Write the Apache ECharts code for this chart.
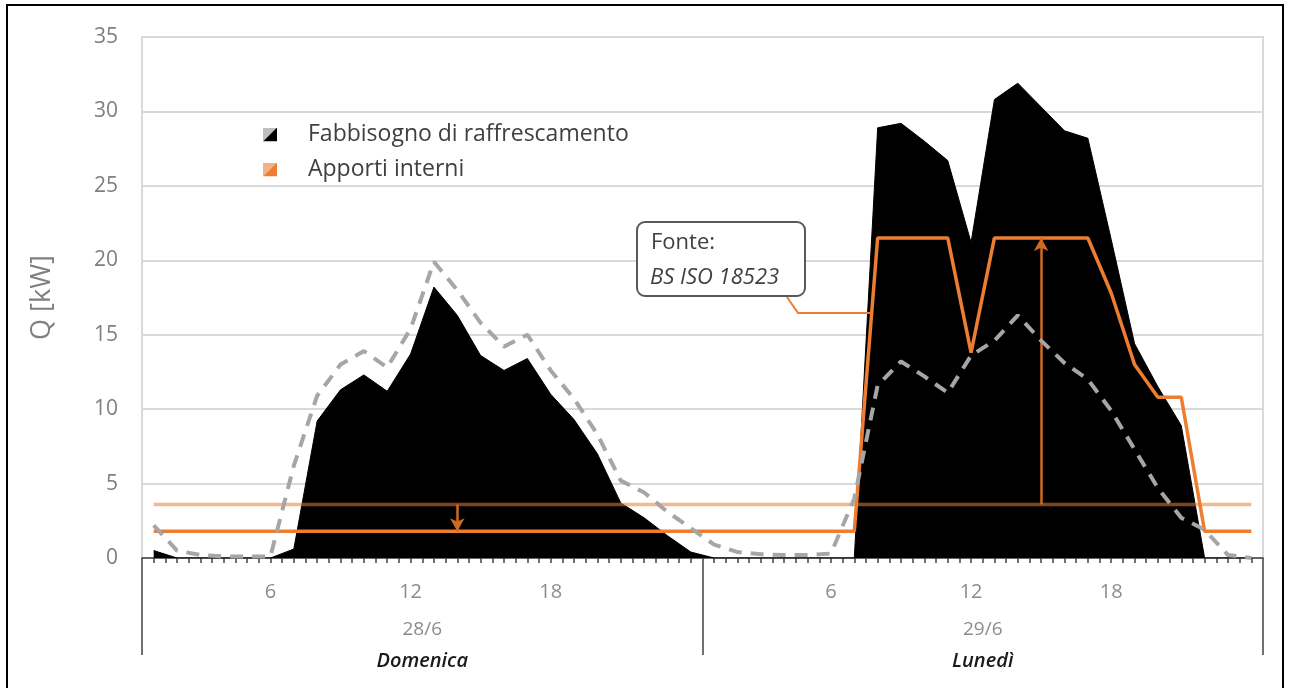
<!DOCTYPE html>
<html>
<head>
<meta charset="utf-8">
<script src="https://cdn.jsdelivr.net/npm/echarts@6/dist/echarts.min.js"></script>
<style>html,body{margin:0;padding:0;background:#fff}#c{width:1289px;height:688px}</style>
</head>
<body>
<div id="c"></div>
<script>
// ---- data ----
const hours = ['1','2','3','4','5','6','7','8','9','10','11','12','13','14','15','16','17','18','19','20','21','22','23','24',
               '1','2','3','4','5','6','7','8','9','10','11','12','13','14','15','16','17','18','19','20','21','22','23','24'];
const shownHours = ['6','12','18'];
const days = ['28/6','29/6'];
const dayNames = ['Domenica','Lunedì'];
const fabbisogno = [0.5,0,0,0,0,0,0.6,9.2,11.3,12.3,11.2,13.7,18.2,16.3,13.6,12.6,13.4,11.0,9.3,7.0,3.7,2.7,1.5,0.4,
                    0,0,0,0,0,0,0,28.9,29.2,28.0,26.7,21.2,30.8,31.9,30.3,28.7,28.2,21.4,14.4,11.5,8.9,0,0,0];
const fabbisognoAlt = [2.2,0.5,0.2,0.1,0.1,0.1,6.2,10.9,13.0,13.9,12.8,15.4,19.9,18.0,15.8,14.2,15.0,12.6,10.7,8.3,5.2,4.4,3.1,2.0,
                       0.9,0.4,0.25,0.2,0.2,0.3,4.0,11.6,13.2,12.2,11.1,13.6,14.6,16.3,14.6,13.1,12.0,9.9,7.3,4.7,2.7,1.9,0.2,0];
const apporti = [1.8,1.8,1.8,1.8,1.8,1.8,1.8,1.8,1.8,1.8,1.8,1.8,1.8,1.8,1.8,1.8,1.8,1.8,1.8,1.8,1.8,1.8,1.8,1.8,
                 1.8,1.8,1.8,1.8,1.8,1.8,1.8,21.5,21.5,21.5,21.5,13.8,21.5,21.5,21.5,21.5,21.5,17.8,13.0,10.8,10.8,1.8,1.8,1.8];
const apportiRif = [3.6,3.6,3.6,3.6,3.6,3.6,3.6,3.6,3.6,3.6,3.6,3.6,3.6,3.6,3.6,3.6,3.6,3.6,3.6,3.6,3.6,3.6,3.6,3.6,
                    3.6,3.6,3.6,3.6,3.6,3.6,3.6,3.6,3.6,3.6,3.6,3.6,3.6,3.6,3.6,3.6,3.6,3.6,3.6,3.6,3.6,3.6,3.6,3.6];
// arrows: [category index, from, to]
const arrows = [[13, 3.6, 1.8], [38, 3.6, 21.5]];
const legendNames = ['Fabbisogno di raffrescamento', 'Apporti interni'];
const noteLines = ['Fonte:', 'BS ISO 18523'];

function icon(c1, c2) {
  const svg = '<svg xmlns="http://www.w3.org/2000/svg" width="14" height="14">' +
    '<polygon points="0,0 14,0 0,14" fill="' + c1 + '"/>' +
    '<polygon points="14,0 14,14 0,14" fill="' + c2 + '"/></svg>';
  return 'image://data:image/svg+xml;charset=utf-8,' + encodeURIComponent(svg);
}

const FONT = '"Open Sans", sans-serif';
const chart = echarts.init(document.getElementById('c'), null, {renderer: 'canvas'});
chart.setOption({
  animation: false,
  textStyle: {fontFamily: FONT},
  grid: {left: 142, right: 26, top: 37, bottom: 130, show: true, borderColor: '#d9d9d9', borderWidth: 2},
  legend: {
    orient: 'vertical', left: 263, top: 123, padding: 0, itemWidth: 14, itemHeight: 14, itemGap: 12,
    textStyle: {fontFamily: FONT, fontSize: 23, color: '#404040', padding: [0, 0, 0, 26]},
    selectedMode: false,
    data: [
      {name: legendNames[0], icon: icon('#bfbfbf', '#000000')},
      {name: legendNames[1], icon: icon('#f4b183', '#ed7d31')}
    ]
  },
  xAxis: [
    {
      type: 'category', data: hours, boundaryGap: true, position: 'bottom',
      axisLine: {show: true, lineStyle: {color: '#404040', width: 1.5}},
      axisTick: {show: true, interval: 0, length: 5, lineStyle: {color: '#404040', width: 1.5}},
      axisLabel: {
        interval: function (i, v) { return (i % 24 === 5 || i % 24 === 11 || i % 24 === 17) && shownHours.indexOf(v) >= 0; },
        color: '#8c8c8c', fontSize: 20, margin: 24, fontFamily: FONT
      },
      splitLine: {show: false}
    },
    {
      type: 'category', data: hours, boundaryGap: true, position: 'bottom',
      axisLine: {show: false},
      axisTick: {show: true, interval: 0, alignWithLabel: true, length: 5, lineStyle: {color: '#404040', width: 1.5}},
      axisLabel: {show: false}, splitLine: {show: false}
    },
    {
      type: 'category', data: days, boundaryGap: true, position: 'bottom',
      axisLine: {show: false},
      axisTick: {show: true, interval: 0, length: 97, lineStyle: {color: '#404040', width: 1.5}},
      axisLabel: {
        interval: 0, margin: 57,
        formatter: function (v, i) { return '{d|' + v + '}\n{w|' + dayNames[i] + '}'; },
        rich: {
          d: {fontSize: 19, color: '#8c8c8c', lineHeight: 30, fontFamily: FONT},
          w: {fontSize: 20, color: '#1a1a1a', fontStyle: 'italic', fontWeight: 600, lineHeight: 32, fontFamily: FONT}
        }
      },
      splitLine: {show: false}
    }
  ],
  yAxis: {
    type: 'value', min: 0, max: 35, interval: 5,
    name: 'Q [kW]', nameLocation: 'middle', nameGap: 86, nameRotate: 90,
    nameTextStyle: {fontSize: 27, color: '#7f7f7f', fontFamily: FONT},
    axisLine: {show: false}, axisTick: {show: false},
    axisLabel: {color: '#7f7f7f', fontSize: 21, margin: 24, fontFamily: FONT},
    splitLine: {lineStyle: {color: '#d9d9d9', width: 2}}
  },
  series: [
    {
      name: legendNames[0], type: 'line', data: fabbisogno, xAxisIndex: 0, symbol: 'none', z: 2,
      itemStyle: {color: '#000'},
      lineStyle: {color: '#000', width: 1},
      areaStyle: {color: '#000', opacity: 1}
    },
    {
      name: 'Apporti interni (riferimento)', type: 'line', data: apportiRif, xAxisIndex: 0, symbol: 'none', z: 3,
      itemStyle: {color: '#f4b183'},
      lineStyle: {color: '#ed7d31', width: 3.5, opacity: 0.55},
      markLine: {
        silent: true, symbol: ['none', 'arrow'], symbolSize: [11, 13], precision: 2,
        label: {show: false},
        lineStyle: {color: '#cf6a22', width: 2.5, type: 'solid', opacity: 1},
        data: arrows.map(function (a) { return [{coord: [a[0], a[1]]}, {coord: [a[0], a[2]]}]; })
      }
    },
    {
      name: legendNames[1], type: 'line', data: apporti, xAxisIndex: 0, symbol: 'none', z: 4,
      itemStyle: {color: '#ed7d31'},
      lineStyle: {color: '#ed7d31', width: 3.5}
    },
    {
      name: 'Fabbisogno di raffrescamento (variante)', type: 'line', data: fabbisognoAlt, xAxisIndex: 0, symbol: 'none', z: 5,
      itemStyle: {color: '#a6a6a6'},
      lineStyle: {color: '#a6a6a6', width: 4, type: [13, 9]}
    }
  ],
  graphic: [
    {type: 'rect', z: 100, shape: {x: 7, y: 5, width: 1276, height: 700}, style: {fill: 'none', stroke: '#000', lineWidth: 2}},
    {type: 'polyline', z: 100, shape: {points: [[787, 297], [798, 313], [871, 313]]}, style: {fill: 'none', stroke: '#ed7d31', lineWidth: 2}},
    {type: 'rect', z: 101, shape: {x: 637, y: 222, width: 168, height: 74, r: 8}, style: {fill: '#fff', stroke: '#595959', lineWidth: 2}},
    {type: 'text', z: 102, x: 651, y: 243, style: {text: noteLines[0], font: '22px ' + FONT, fill: '#404040', textVerticalAlign: 'middle', verticalAlign: 'middle'}},
    {type: 'text', z: 102, x: 650, y: 278, style: {text: noteLines[1], font: 'italic 22px ' + FONT, fill: '#404040', textVerticalAlign: 'middle', verticalAlign: 'middle'}}
  ]
});
</script>
</body>
</html>
